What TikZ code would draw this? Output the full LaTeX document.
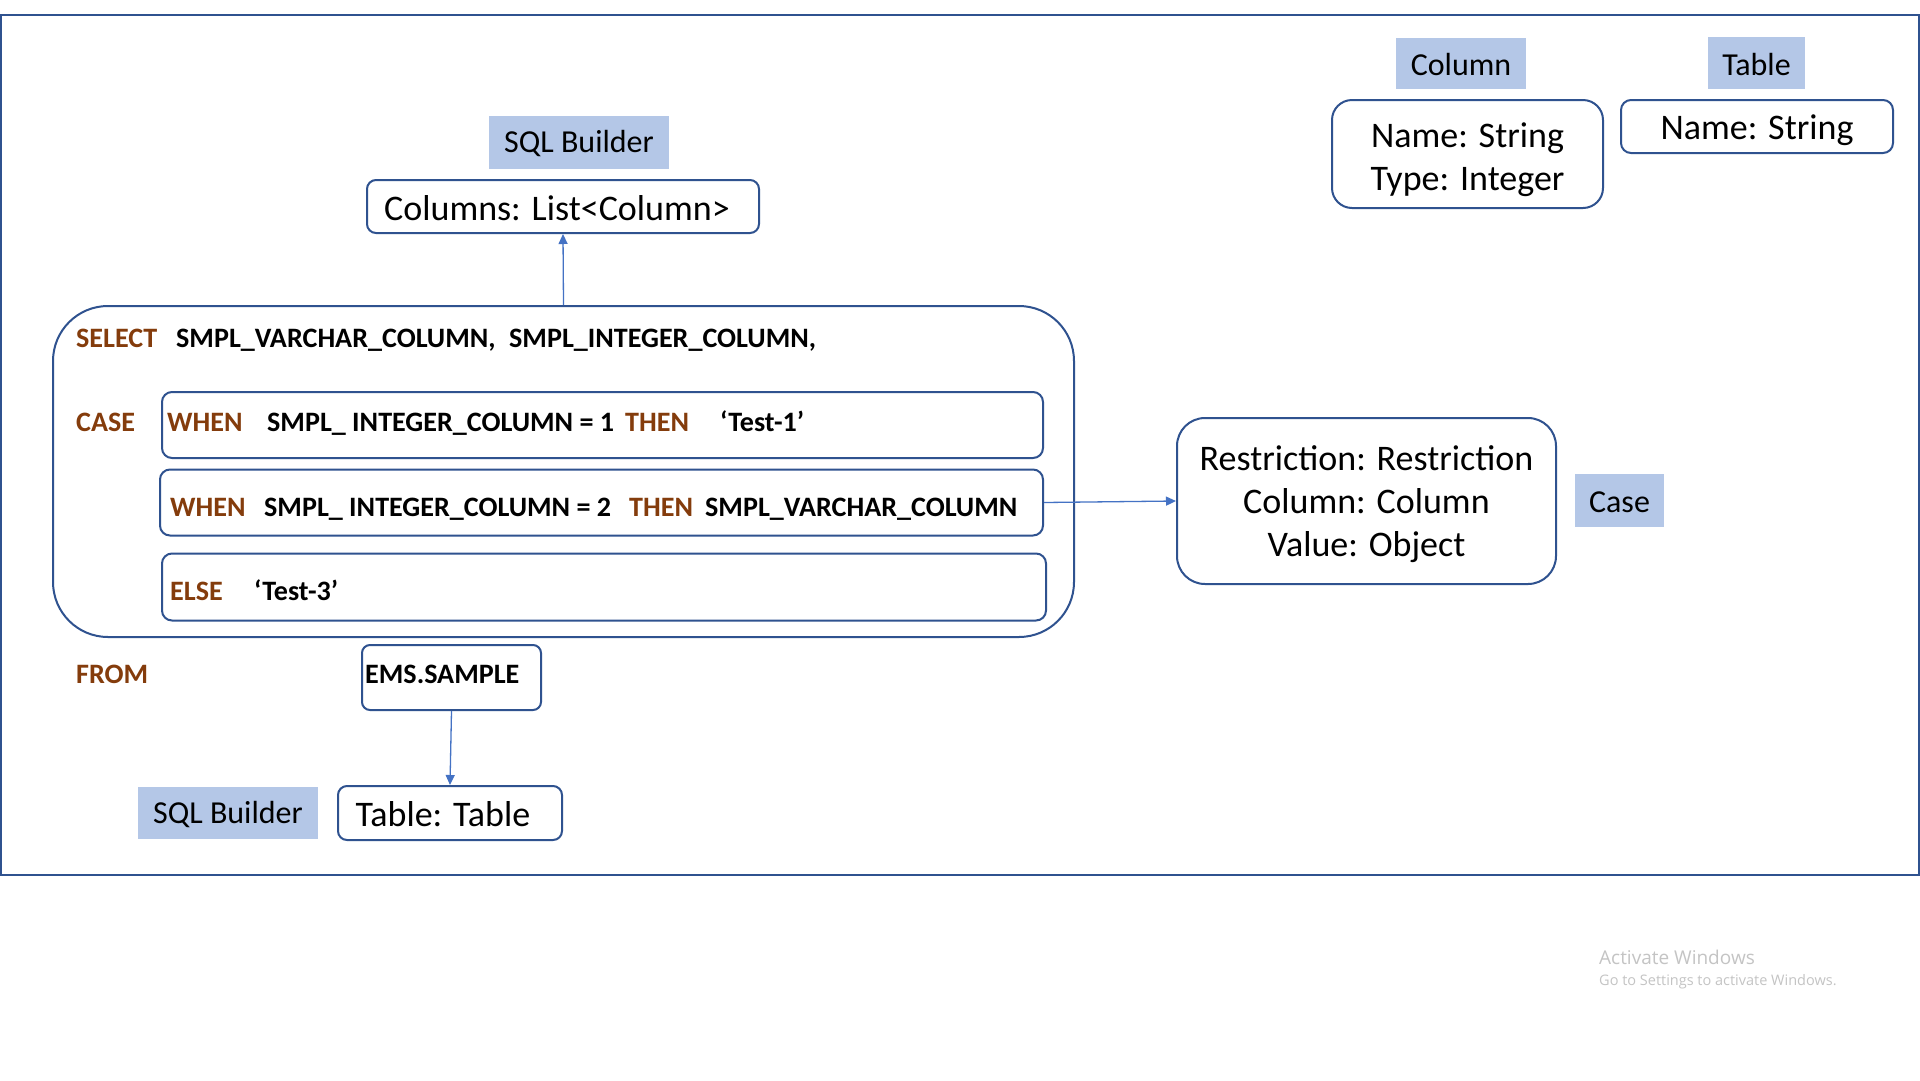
\documentclass[tikz,border=0pt]{standalone}
\usepackage{fontspec}
\setmainfont{Carlito}
\newfontfamily\winfont{Open Sans}
\usetikzlibrary{arrows.meta}
\definecolor{frameblue}{HTML}{2F528F}
\definecolor{lblfill}{HTML}{B4C7E7}
\definecolor{kw}{HTML}{843C0C}
\definecolor{arrowblue}{HTML}{4472C4}
\definecolor{wingray}{HTML}{C4C4C4}
\newcommand\lowered[2]{\raisebox{-#1}[\height][\depth]{#2}}
\newcommand\stacked[1]{\begin{tabular}{@{}c@{}}#1\end{tabular}}
\begin{document}
\begin{tikzpicture}[x=1pt,y=-1pt,
  box/.style={draw=frameblue, line width=2pt, rounded corners=9pt, fill=white, inner sep=0pt, align=center, font=\fontsize{36}{43}\selectfont},
  lbl/.style={fill=lblfill, inner sep=0pt, font=\fontsize{32}{38}\selectfont},
  sqlt/.style={anchor=base west, inner sep=0pt, font=\fontsize{28.1}{33}\selectfont\bfseries},
  kwd/.style={sqlt, text=kw},
  conn/.style={draw=arrowblue, line width=1.3pt, -{Triangle[length=10pt,width=9pt]}}]
\useasboundingbox (0,0) rectangle (1920,1080);
\fill[white] (0,0) rectangle (1920,1080);
\draw[frameblue, line width=1.6pt] (1,15) rectangle (1919,875);

% top SQL Builder
\node[lbl, minimum width=180pt, minimum height=53pt] (sqlb1) at (579,142.5) {\lowered{1.5pt}{SQL Builder}};
\node[box, minimum width=392pt, minimum height=53pt] (cols) at (563,206.5) {\lowered{1.5pt}{Columns: List<Column>}\hspace*{12pt}};

% big query box
\node[box, rounded corners=55pt, minimum width=1021pt, minimum height=331pt] (big) at (563.5,471.5) {};
\node[box, rounded corners=10pt, minimum width=881pt, minimum height=66pt] (row1) at (602.5,425) {};
\node[box, rounded corners=10pt, minimum width=883pt, minimum height=66pt] (row2) at (601.5,502.5) {};
\node[box, rounded corners=10pt, minimum width=884pt, minimum height=67pt] (row3) at (604,587) {};

\node[kwd] (select) at (76,347) {SELECT};
\node[sqlt] (sel1) at (176,347) {SMPL\_VARCHAR\_COLUMN,};
\node[sqlt] (sel2) at (509,347) {SMPL\_INTEGER\_COLUMN,};

\node[kwd] (case) at (76,431) {CASE};
\node[kwd] (when1) at (167,431) {WHEN};
\node[sqlt] (cond1) at (267,431) {SMPL\_ INTEGER\_COLUMN = 1};
\node[kwd] (then1) at (625,431) {THEN};
\node[sqlt] (val1) at (720,431) {‘Test-1’};

\node[kwd] (when2) at (170,516) {WHEN};
\node[sqlt] (cond2) at (264,516) {SMPL\_ INTEGER\_COLUMN = 2};
\node[kwd] (then2) at (629,516) {THEN};
\node[sqlt] (val2) at (705,516) {SMPL\_VARCHAR\_COLUMN};

\node[kwd] (else) at (170,600) {ELSE};
\node[sqlt] (val3) at (254,600) {‘Test-3’};

\node[kwd] (from) at (76,683) {FROM};
\node[box, rounded corners=8pt, minimum width=179pt, minimum height=65pt] (ems) at (451.5,677.5) {};
\node[sqlt] (emst) at (365,683) {EMS.SAMPLE};

% bottom SQL Builder
\node[lbl, minimum width=180pt, minimum height=52pt] (sqlb2) at (228,813) {\lowered{1.5pt}{SQL Builder}};
\node[box, minimum width=224pt, minimum height=54pt] (tbl) at (450,813) {\lowered{1.5pt}{Table: Table}\hspace*{14pt}};

% case
\node[box, rounded corners=28pt, minimum width=379pt, minimum height=166pt] (restr) at (1366.5,501) {\lowered{3.5pt}{\stacked{Restriction: Restriction\\Column: Column\\Value: Object}}};
\node[lbl, minimum width=89pt, minimum height=53pt] (caselbl) at (1619.5,500.5) {\lowered{1.5pt}{Case}};

% column / table
\node[lbl, minimum width=130pt, minimum height=51pt] (collbl) at (1461,63.5) {\lowered{1pt}{Column}};
\node[lbl, minimum width=97pt, minimum height=52pt] (tablbl) at (1756.5,63) {\lowered{1.5pt}{Table}};
\node[box, rounded corners=20pt, minimum width=271pt, minimum height=108pt] (colbox) at (1467.5,154) {\lowered{6pt}{\stacked{Name: String\\Type: Integer}}};
\node[box, rounded corners=10pt, minimum width=272pt, minimum height=53pt] (tabbox) at (1757,126.5) {\lowered{4pt}{Name: String}};

% connectors
\draw[conn] (big.north) -- (cols.south);
\draw[conn] (row2.east) -- (restr.west);
\draw[conn] (ems.south) -- (tbl.north);

% watermark
\node[anchor=base west, inner sep=0pt, text=wingray, font=\winfont\fontsize{19}{23}\selectfont] (act1) at (1599,964) {Activate Windows};
\node[anchor=base west, inner sep=0pt, text=wingray, font=\winfont\fontsize{14.5}{17}\selectfont] (act2) at (1599,985) {Go to Settings to activate Windows.};
\end{tikzpicture}
\end{document}
